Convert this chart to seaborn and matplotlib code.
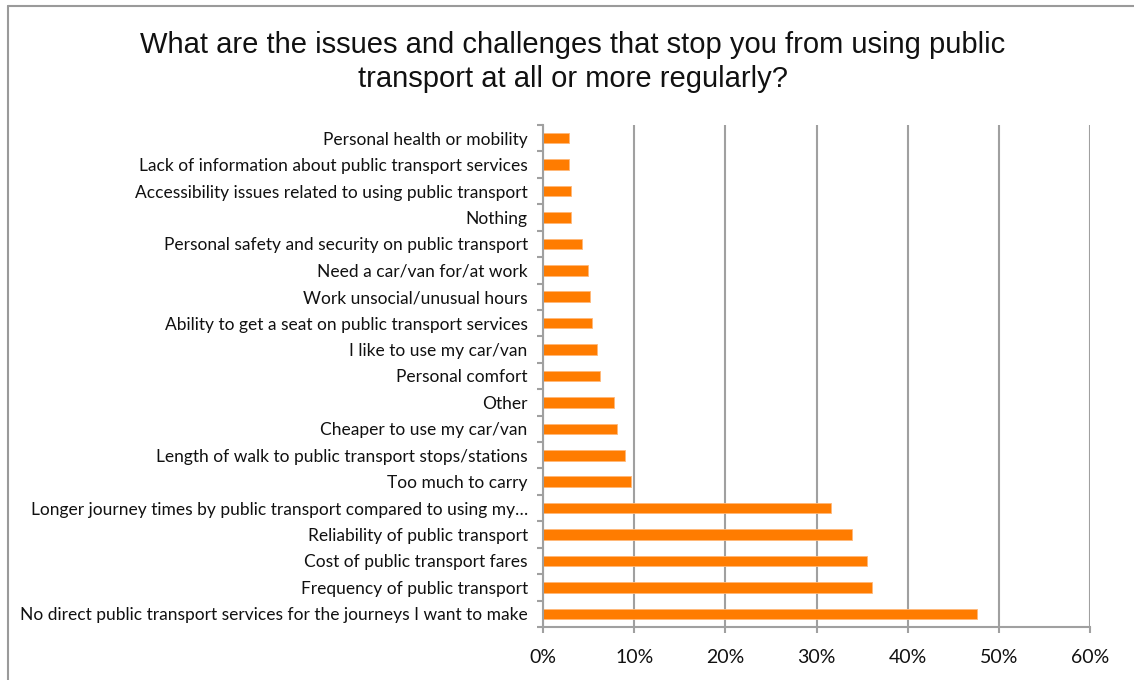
import matplotlib
matplotlib.use("Agg")
import matplotlib.pyplot as plt
from matplotlib.lines import Line2D
from matplotlib.ticker import FixedLocator, PercentFormatter
import seaborn as sns
import pandas as pd

# Survey responses, listed top to bottom as shown
issues = [
    "Personal health or mobility",
    "Lack of information about public transport services",
    "Accessibility issues related to using public transport",
    "Nothing",
    "Personal safety and security on public transport",
    "Need a car/van for/at work",
    "Work unsocial/unusual hours",
    "Ability to get a seat on public transport services",
    "I like to use my car/van",
    "Personal comfort",
    "Other",
    "Cheaper to use my car/van",
    "Length of walk to public transport stops/stations",
    "Too much to carry",
    "Longer journey times by public transport compared to using my\u2026",
    "Reliability of public transport",
    "Cost of public transport fares",
    "Frequency of public transport",
    "No direct public transport services for the journeys I want to make",
]
share_pct = [2.9, 2.9, 3.1, 3.1, 4.3, 4.9, 5.2, 5.4, 5.9, 6.2,
             7.8, 8.1, 9.0, 9.7, 31.6, 33.9, 35.5, 36.1, 47.6]
x_ticks = [0, 10, 20, 30, 40, 50, 60]

df = pd.DataFrame({"issue": issues, "share": share_pct})

sns.set_theme(style="white")
plt.rcParams["font.family"] = ["Lato", "DejaVu Sans"]

fig = plt.figure(figsize=(11.34, 6.8), dpi=100)
ax = fig.add_axes([543 / 1134, 1 - 627 / 680, (1090 - 543) / 1134, (627 - 125) / 680])

sns.barplot(data=df, x="share", y="issue", orient="h", color="#FF7C00",
            saturation=1, width=0.4, ax=ax, edgecolor="#FFB878", linewidth=0.6)

grid_col = "#A0A0A0"
ax.set_xlim(0, 60)
ax.set_ylim(len(issues) - 0.5, -0.5)
ax.xaxis.set_major_locator(FixedLocator(x_ticks))
ax.xaxis.set_major_formatter(PercentFormatter(decimals=0))
ax.grid(axis="x", color=grid_col, linewidth=1.5)
ax.grid(axis="y", visible=False)
ax.set_axisbelow(True)

# category boundary ticks on the vertical axis
ax.yaxis.set_minor_locator(FixedLocator([i - 0.5 for i in range(len(issues) + 1)]))
ax.tick_params(axis="y", which="major", length=0, pad=11, labelsize=12.5, colors="#111111")
ax.tick_params(axis="y", which="minor", length=4, width=1.5, color=grid_col, left=True)
ax.tick_params(axis="x", which="major", length=4, width=1.5, color=grid_col,
               bottom=True, pad=12, labelsize=14, labelcolor="#111111")
ax.set_xlabel("")
ax.set_ylabel("")

for side in ("top", "right"):
    ax.spines[side].set_visible(False)
for side in ("left", "bottom"):
    ax.spines[side].set_color(grid_col)
    ax.spines[side].set_linewidth(1.5)

fig.text(0.505, 1 - 62 / 680,
         "What are the issues and challenges that stop you from using public\n"
         "transport at all or more regularly?",
         ha="center", va="center", fontsize=21, family=["Liberation Sans", "DejaVu Sans"],
         linespacing=1.3, color="#111111")

# chart area frame
fig.add_artist(Line2D([7.5 / 1134, 7.5 / 1134], [0, 1 - 5.5 / 680],
                      transform=fig.transFigure, color="#9A9A9A", linewidth=1.5))
fig.add_artist(Line2D([7.5 / 1134, 1], [1 - 5.5 / 680, 1 - 5.5 / 680],
                      transform=fig.transFigure, color="#9A9A9A", linewidth=1.5))

fig.savefig("out.png", dpi=100, facecolor="white")
